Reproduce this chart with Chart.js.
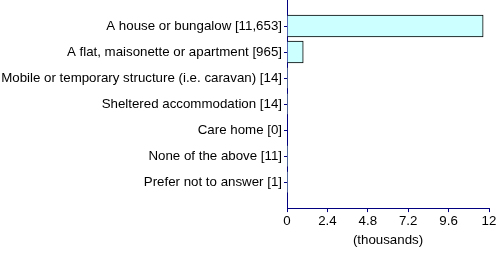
<!DOCTYPE html>
<html><head><meta charset="utf-8">
<script src="https://cdn.jsdelivr.net/npm/chart.js@4/dist/chart.umd.min.js"></script>
<style>html,body{margin:0;padding:0;background:#fff}#wrap{width:500px;height:254px}</style>
</head><body><div id="wrap"><canvas id="c"></canvas></div>
<script>
const categories = ["", "A house or bungalow [11,653]", "A flat, maisonette or apartment [965]", "Mobile or temporary structure (i.e. caravan) [14]", "Sheltered accommodation [14]", "Care home [0]", "None of the above [11]", "Prefer not to answer [1]", ""];
const values = [null, 11653, 965, 14, 14, 0, 11, 1, null];
const xTicks = [0, 2.4, 4.8, 7.2, 9.6, 12];
const xTitle = "(thousands)";
const navy = '#000080';
const font = { family: 'Liberation Sans', size: 13.3 };
new Chart(document.getElementById('c'), {
  type: 'bar',
  data: { labels: categories, datasets: [{ data: values, backgroundColor: '#ccffff', borderColor: '#000000', borderWidth: 1, barThickness: 22 }] },
  options: {
    indexAxis: 'y', responsive: true, maintainAspectRatio: false, animation: false,
    layout: { padding: { top: 0, right: 11, left: 0, bottom: 6 } },
    plugins: { legend: { display: false }, tooltip: { enabled: false } },
    scales: {
      x: { min: 0, max: 12000, afterBuildTicks: s => { s.ticks = xTicks.map(v => ({ value: v * 1000 })); },
        afterFit: s => { s.paddingRight = 0; s.paddingLeft = 0; },
        ticks: { color: '#000', font, padding: 1, maxRotation: 0, callback: v => String(v / 1000) },
        grid: { drawOnChartArea: false, drawTicks: true, tickLength: 4, color: navy },
        border: { color: navy, width: 1 },
        title: { display: true, text: xTitle, color: '#000', font, padding: { top: 2, bottom: 0 } } },
      y: { offset: false, afterFit: s => { s.width = 287; s.paddingTop = 0; s.paddingBottom = 0; },
        ticks: { color: '#000', font, padding: 2, autoSkip: false },
        grid: { offset: false, drawOnChartArea: false, drawTicks: true, tickLength: 3, color: ctx => (categories[ctx.index] ? navy : 'rgba(0,0,0,0)') },
        border: { color: navy, width: 1 } }
    }
  }
});
</script></body></html>
